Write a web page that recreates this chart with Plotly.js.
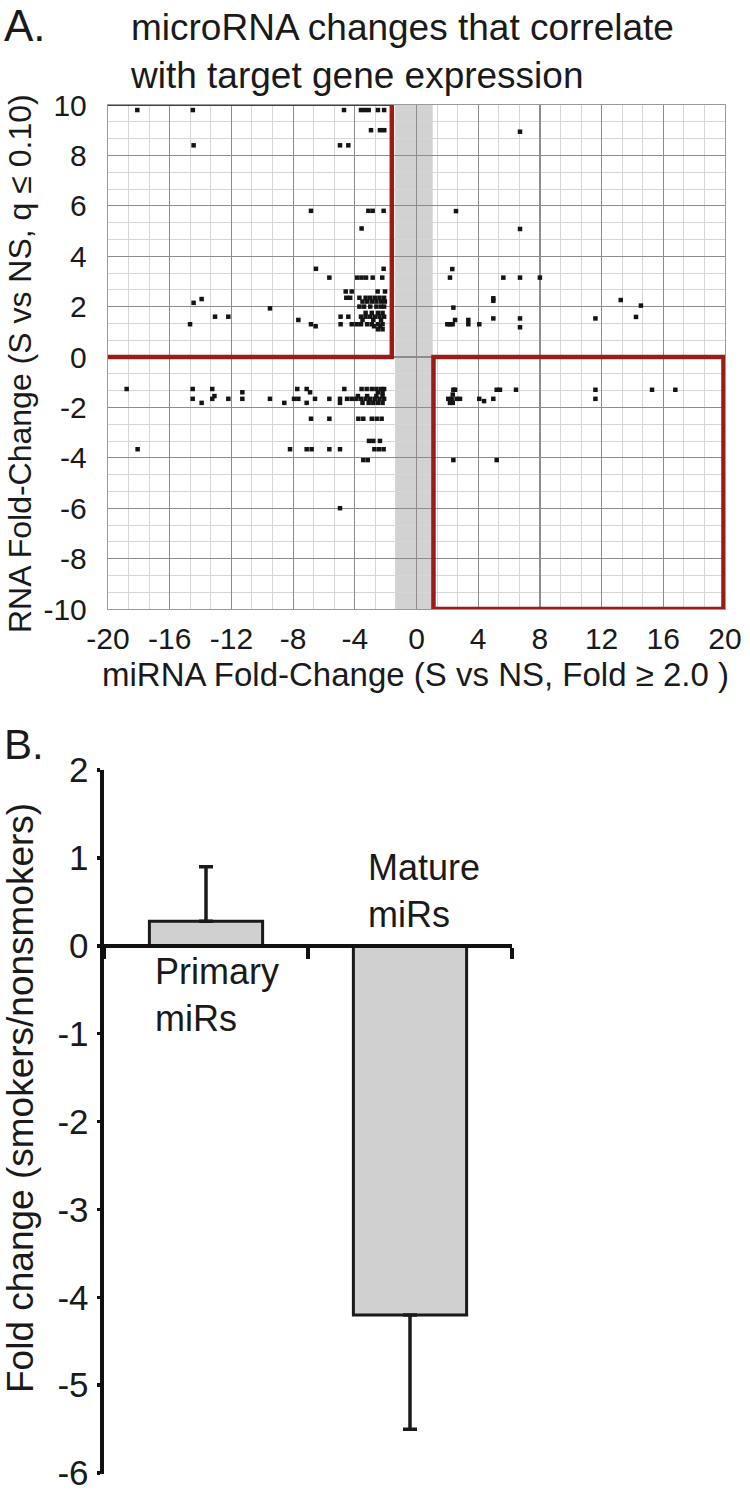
<!DOCTYPE html>
<html>
<head>
<meta charset="utf-8">
<script src="https://cdn.plot.ly/plotly-3.0.1.min.js"></script>
<style>html,body{margin:0;padding:0;background:#fff;}#chart{width:750px;height:1500px;}</style>
</head>
<body>
<div id="chart"></div>
<script>
// ---------- Panel A data: miRNA fold-change (x) vs RNA fold-change (y) ----------
const upLeftX = [-18.1,-14.5,-4.7,-3.6,-3.35,-3.1,-2.5,-2.1,
  -2.95,-2.37,-2.09,
  -14.45,-4.96,-4.42,
  -6.84,-3.12,-2.84,-2.13,
  -3.56,
  -6.52,-2.13,
  -5.65,-3.84,-3.56,-3.27,-2.84,-2.22,
  -4.59,-4.2,-2.52,-2.04,
  -4.55,-4.3,-3.7,-3.3,-3.0,-2.7,-2.4,-2.1,
  -13.93,
  -14.45,-3.5,-3.2,-2.9,-2.6,-2.3,-2.05,
  -3.7,-3.4,-3.0,-2.6,-2.3,-2.1,
  -9.5,
  -3.3,-2.9,-2.5,-2.2,
  -13.06,-12.2,-4.92,-4.42,-3.6,-3.3,-3.0,-2.7,-2.4,-2.1,
  -7.66,-3.5,-2.8,-2.3,
  -14.68,-6.84,-4.92,-4.2,-3.88,-3.6,-3.2,-2.9,-2.5,-2.2,
  -6.54,-2.75,-2.35,
  -2.5,-2.2];
const upLeftY = [9.8,9.8,9.8,9.8,9.8,9.8,9.8,9.8,
  9.0,9.0,9.0,
  8.4,8.4,8.4,
  5.8,5.8,5.8,5.8,
  5.1,
  3.5,3.5,
  3.15,3.15,3.15,3.15,3.15,3.15,
  2.6,2.6,2.6,2.6,
  2.35,2.35,2.35,2.35,2.35,2.35,2.35,2.35,
  2.3,
  2.15,2.2,2.2,2.2,2.2,2.2,2.2,
  2.0,2.0,2.0,2.0,2.0,2.0,
  1.93,
  1.75,1.75,1.75,1.75,
  1.6,1.6,1.6,1.6,1.6,1.6,1.6,1.6,1.6,1.6,
  1.47,1.47,1.47,1.47,
  1.3,1.3,1.3,1.3,1.3,1.3,1.3,1.3,1.3,1.3,
  1.22,1.22,1.22,
  1.1,1.1];

const upRightX = [6.71,2.56,6.71,2.32,2.17,5.63,6.71,8.0,4.98,4.98,13.24,14.55,2.39,2.5,2.0,2.17,2.34,3.36,3.36,4.07,4.98,6.71,6.71,11.6,14.23];
const upRightY = [8.94,5.79,5.08,3.49,3.15,3.15,3.15,3.15,2.33,2.23,2.26,2.04,1.96,1.47,1.3,1.3,1.3,1.47,1.3,1.3,1.53,1.53,1.18,1.53,1.59];

const lowLeftX = [-18.79,-14.51,-13.24,-7.73,-7.12,-4.68,-3.56,-3.23,-2.9,-2.6,-2.3,-2.1,
  -11.29,-6.9,-2.5,-2.2,
  -14.51,-13.24,-12.2,-11.29,-9.5,-7.94,-7.66,-6.58,-5.65,-4.96,-4.5,-4.2,-3.9,-3.6,-3.3,-3.0,-2.7,-2.4,-2.1,
  -13.1,-3.8,-3.2,-2.6,-2.2,
  -13.93,-8.57,-7.12,-4.96,-3.5,-3.1,-2.8,-2.5,-2.2,
  -6.84,-5.65,-3.77,-3.45,-2.9,-2.58,-2.26,
  -3.08,-2.8,-2.37,
  -18.08,-8.2,-7.12,-6.8,-5.65,-4.96,-2.73,-2.43,-2.13,
  -3.45,-3.16,
  -4.96];
const lowLeftY = [-1.27,-1.27,-1.27,-1.27,-1.27,-1.27,-1.27,-1.27,-1.27,-1.27,-1.27,-1.27,
  -1.4,-1.4,-1.4,-1.4,
  -1.66,-1.66,-1.66,-1.66,-1.66,-1.66,-1.66,-1.66,-1.66,-1.66,-1.66,-1.66,-1.66,-1.66,-1.66,-1.66,-1.66,-1.66,-1.66,
  -1.55,-1.55,-1.55,-1.55,-1.55,
  -1.82,-1.82,-1.82,-1.82,-1.82,-1.82,-1.82,-1.82,-1.82,
  -2.45,-2.45,-2.45,-2.45,-2.45,-2.45,-2.45,
  -3.33,-3.33,-3.33,
  -3.66,-3.66,-3.66,-3.66,-3.66,-3.66,-3.66,-3.66,-3.66,
  -4.09,-4.09,
  -6.0];

const lowRightX = [2.39,2.5,5.2,5.41,6.45,11.6,15.27,16.78,2.35,2.06,2.28,2.6,2.82,4.07,4.98,11.6,4.38,2.17,2.35,2.39,5.2];
const lowRightY = [-1.3,-1.3,-1.3,-1.3,-1.3,-1.3,-1.3,-1.3,-1.49,-1.66,-1.66,-1.66,-1.66,-1.66,-1.66,-1.66,-1.75,-1.82,-1.82,-4.09,-4.09];

const xTickValsA = [-20,-16,-12,-8,-4,0,4,8,12,16,20];
const xTickTextA = ['-20','-16','-12','-8','-4','0','4','8','12','16','20'];
const yTickValsA = [10,8,6,4,2,0,-2,-4,-6,-8,-10];
const yTickTextA = ['10','8','6','4','2','0','-2','-4','-6','-8','-10'];

// ---------- Panel B data ----------
const barCategories = ['Primary miRs', 'Mature miRs'];
const barValues = [0.28, -4.2];
const barErrPlus = [0.62, 0];
const barErrMinus = [0, 1.3];
const yTickValsB = [2,1,0,-1,-2,-3,-4,-5,-6];
const yTickTextB = ['2','1','0','-1','-2','-3','-4','-5','-6'];

const FONT = 'Arial, "Liberation Sans", sans-serif';
const ptStyle = {color:'#141414', size:4.5, symbol:'square'};
function pts(x,y){return {type:'scatter', mode:'markers', x:x, y:y, marker:ptStyle, xaxis:'x', yaxis:'y', hoverinfo:'skip', cliponaxis:false};}

const traces = [
  pts(upLeftX, upLeftY), pts(upRightX, upRightY), pts(lowLeftX, lowLeftY), pts(lowRightX, lowRightY),
  {type:'bar', x:barCategories, y:barValues, width:0.555, xaxis:'x2', yaxis:'y2',
   marker:{color:'#d0d0d0', line:{color:'#1a1a1a', width:3}},
   error_y:{type:'data', symmetric:false, array:barErrPlus, arrayminus:barErrMinus, thickness:3.5, width:7, color:'#1a1a1a'},
   hoverinfo:'skip'}
];

const yB0 = 1-1474/1500, yB1 = 1-770/1500;
const rB = [-6.01, 2.0];
const zeroPos = yB0 + (0-rB[0])/(rB[1]-rB[0])*(yB1-yB0);

const layout = {
  width:750, height:1500, margin:{l:0,r:0,t:0,b:0}, showlegend:false,
  paper_bgcolor:'#fff', plot_bgcolor:'#fff', font:{family:FONT, color:'#1a1a1a'},
  xaxis:{domain:[108/750, 725/750], range:[-20,20], tickvals:xTickValsA, ticktext:xTickTextA, ticks:'', showgrid:true, gridcolor:'#8c8c8c', gridwidth:1.2,
    minor:{dtick:4/3, tick0:-20, showgrid:true, gridcolor:'#d6d6d6', gridwidth:1},
    zeroline:false, showline:true, mirror:true, linecolor:'#9a9a9a', linewidth:1.2, tickfont:{size:30, family:FONT, color:'#1a1a1a'}, ticklabelstandoff:3, ticklabeloverflow:'allow', anchor:'y'},
  yaxis:{domain:[1-609/1500, 1-105/1500], range:[-10,10], tickvals:yTickValsA, ticktext:yTickTextA, ticks:'', showgrid:true, gridcolor:'#8c8c8c', gridwidth:1.2,
    minor:{dtick:2/3, tick0:-10, showgrid:true, gridcolor:'#d6d6d6', gridwidth:1},
    zeroline:false, showline:true, mirror:true, linecolor:'#9a9a9a', linewidth:1.2, tickfont:{size:30, family:FONT, color:'#1a1a1a'}, ticklabelstandoff:14, ticklabeloverflow:'allow', anchor:'x'},
  xaxis2:{domain:[104/750, 512/750], type:'category', range:[-0.5,1.5], anchor:'free', position:zeroPos,
    showline:true, linecolor:'#111', linewidth:4.5, ticks:'outside', tickson:'boundaries', ticklen:11, tickwidth:3.5, tickcolor:'#111',
    showticklabels:false, showgrid:false, zeroline:false},
  yaxis2:{domain:[yB0, yB1], range:rB, tickvals:yTickValsB, ticktext:yTickTextB, anchor:'x2',
    showline:true, linecolor:'#111', linewidth:4.5, ticks:'outside', ticklen:3, tickwidth:3.5, tickcolor:'#111',
    showgrid:false, zeroline:false, tickfont:{size:35, family:FONT, color:'#1a1a1a'}, ticklabelstandoff:1, ticklabeloverflow:'allow'},
  shapes:[
    {type:'rect', xref:'x', yref:'y', x0:-1.4, x1:1.05, y0:-10, y1:10, fillcolor:'#d2d2d2', line:{width:0}, layer:'below'},
    {type:'rect', xref:'x', yref:'y', x0:-20.2, x1:-1.6, y0:0, y1:10.05, fillcolor:'rgba(0,0,0,0)', line:{color:'#9b1c16', width:4.5}, layer:'above'},
    {type:'rect', xref:'x', yref:'y', x0:1.1, x1:19.9, y0:-10, y1:0, fillcolor:'rgba(0,0,0,0)', line:{color:'#9b1c16', width:4.5}, layer:'above'}
  ],
  annotations:[
    {text:'A.', xref:'paper', yref:'paper', x:2/750, y:1-25/1500, xanchor:'left', yanchor:'middle', showarrow:false, font:{size:44, family:FONT, color:'#1a1a1a'}},
    {text:'microRNA changes that correlate<br>with target gene expression', xref:'paper', yref:'paper', x:128/750, y:1-52/1500, xanchor:'left', yanchor:'middle', align:'left', showarrow:false, font:{size:37, family:FONT, color:'#1a1a1a'}},
    {text:'RNA Fold-Change (S vs NS, q \u2264 0.10)', xref:'paper', yref:'paper', x:20/750, y:1-364/1500, xanchor:'center', yanchor:'middle', textangle:-90, showarrow:false, font:{size:32, family:FONT, color:'#1a1a1a'}},
    {text:'miRNA Fold-Change (S vs NS, Fold \u2265 2.0 )', xref:'paper', yref:'paper', x:415/750, y:1-675/1500, xanchor:'center', yanchor:'middle', showarrow:false, font:{size:33, family:FONT, color:'#1a1a1a'}},
    {text:'B.', xref:'paper', yref:'paper', x:2/750, y:1-745/1500, xanchor:'left', yanchor:'middle', showarrow:false, font:{size:42, family:FONT, color:'#1a1a1a'}},
    {text:'Fold change (smokers/nonsmokers)', xref:'paper', yref:'paper', x:20/750, y:1-1098/1500, xanchor:'center', yanchor:'middle', textangle:-90, showarrow:false, font:{size:37, family:FONT, color:'#1a1a1a'}},
    {text:'Primary<br>miRs', xref:'paper', yref:'paper', x:153/750, y:1-995/1500, xanchor:'left', yanchor:'middle', align:'left', showarrow:false, font:{size:36, family:FONT, color:'#1a1a1a'}},
    {text:'Mature<br>miRs', xref:'paper', yref:'paper', x:366/750, y:1-891/1500, xanchor:'left', yanchor:'middle', align:'left', showarrow:false, font:{size:36, family:FONT, color:'#1a1a1a'}}
  ]
};

Plotly.newPlot('chart', traces, layout, {staticPlot:true, displayModeBar:false});
</script>
</body>
</html>
